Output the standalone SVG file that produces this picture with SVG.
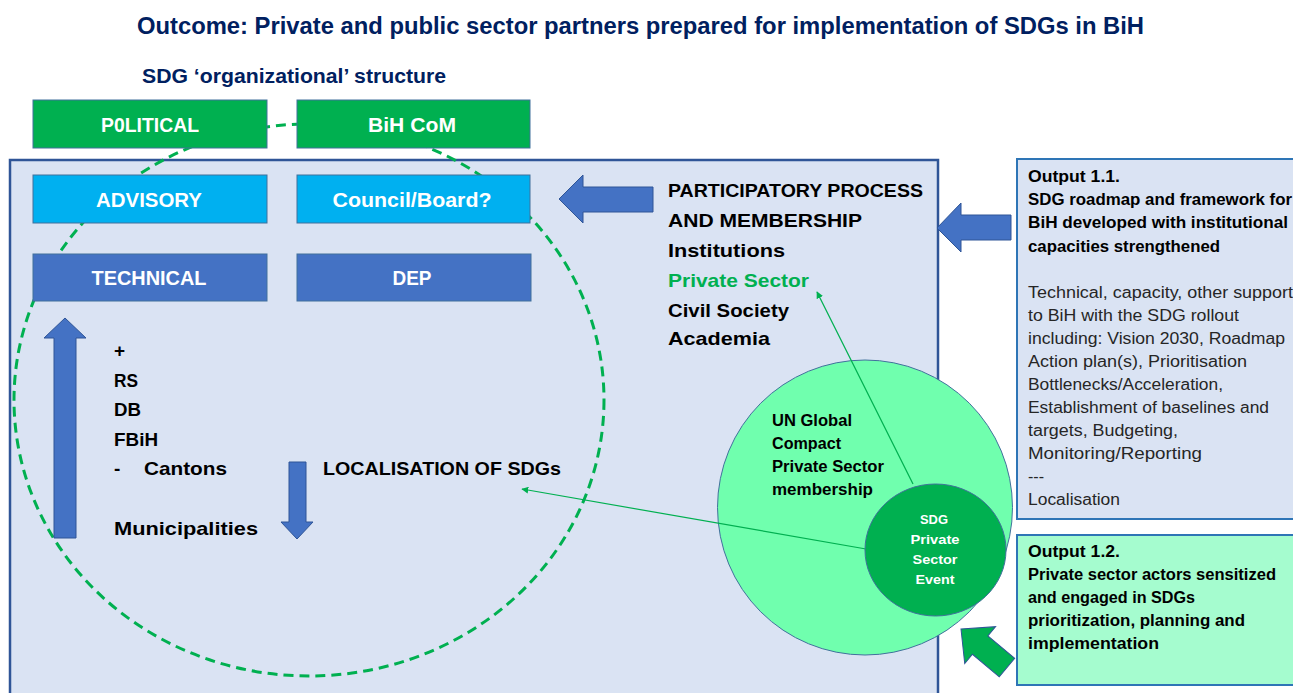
<svg xmlns="http://www.w3.org/2000/svg" width="1293" height="693" viewBox="0 0 1293 693">
<defs>
<style>
text{font-family:"Liberation Sans",Arial,sans-serif;}
.b{font-weight:bold;}
.title{font-size:23px;fill:#002060;font-weight:bold;}
.sub{font-size:20px;fill:#002060;font-weight:bold;}
.box{stroke:#41719C;stroke-width:1;}
.lbl{font-size:20px;fill:#fff;font-weight:bold;text-anchor:middle;}
.blk{font-size:19px;fill:#000;font-weight:bold;}
.out{font-size:16px;fill:#262626;}
.outb{font-size:16px;fill:#000;font-weight:bold;}
.barrow{fill:#4472C4;stroke:#2F5597;stroke-width:1;}
.thin{stroke:#00B050;stroke-width:1.2;fill:none;marker-end:url(#ah);}
</style>
<marker id="ah" viewBox="0 0 10 10" refX="9" refY="5" markerWidth="7" markerHeight="7" orient="auto" markerUnits="userSpaceOnUse">
<path d="M0,0 L10,5 L0,10 z" fill="#00B050"/>
</marker>
</defs>
<rect width="1293" height="693" fill="#fff"/>
<text class="title" x="137" y="34" textLength="1007" lengthAdjust="spacingAndGlyphs">Outcome: Private and public sector partners prepared for implementation of SDGs in BiH</text>
<text class="sub" x="142" y="83" textLength="304" lengthAdjust="spacingAndGlyphs">SDG ‘organizational’ structure</text>

<g id="panel">
<rect x="10" y="160" width="928" height="560" fill="#DAE3F3" stroke="#2F5597" stroke-width="2.5"/>
</g>

<g id="scope-ellipse">
<ellipse cx="309" cy="400" rx="295" ry="276" fill="none" stroke="#00B050" stroke-width="3" stroke-dasharray="10 6"/>
</g>

<g id="political"><rect class="box" x="33" y="100" width="234" height="48" fill="#00B050"/><text class="lbl" x="150" y="132" textLength="98" lengthAdjust="spacingAndGlyphs">P0LITICAL</text></g>
<g id="bih-com"><rect class="box" x="297" y="100" width="233" height="48" fill="#00B050"/><text class="lbl" x="412" y="132" textLength="88" lengthAdjust="spacingAndGlyphs">BiH CoM</text></g>
<g id="advisory"><rect class="box" x="33" y="175" width="234" height="48" fill="#00B0F0"/><text class="lbl" x="149" y="207" textLength="106" lengthAdjust="spacingAndGlyphs">ADVISORY</text></g>
<g id="council"><rect class="box" x="297" y="175" width="233" height="48" fill="#00B0F0"/><text class="lbl" x="412" y="207" textLength="159" lengthAdjust="spacingAndGlyphs">Council/Board?</text></g>
<g id="technical"><rect class="box" x="33" y="254" width="234" height="47" fill="#4472C4" stroke="#2F5597"/><text class="lbl" x="149" y="285" textLength="115" lengthAdjust="spacingAndGlyphs">TECHNICAL</text></g>
<g id="dep"><rect class="box" x="297" y="254" width="234" height="47" fill="#4472C4" stroke="#2F5597"/><text class="lbl" x="412" y="285" textLength="39" lengthAdjust="spacingAndGlyphs">DEP</text></g>

<g id="levels">
<text class="blk" x="114" y="357">+</text>
<text class="blk" x="114" y="387" textLength="24" lengthAdjust="spacingAndGlyphs">RS</text>
<text class="blk" x="114" y="416" textLength="27" lengthAdjust="spacingAndGlyphs">DB</text>
<text class="blk" x="114" y="446" textLength="44" lengthAdjust="spacingAndGlyphs">FBiH</text>
<text class="blk" x="114" y="475">-</text>
<text class="blk" x="144" y="475" textLength="83" lengthAdjust="spacingAndGlyphs">Cantons</text>
<text class="blk" x="114" y="535" textLength="144" lengthAdjust="spacingAndGlyphs">Municipalities</text>
</g>
<g id="localisation"><text class="blk" x="323" y="475" textLength="238" lengthAdjust="spacingAndGlyphs">LOCALISATION OF SDGs</text></g>

<g id="participatory">
<text class="blk" x="668" y="197" textLength="255" lengthAdjust="spacingAndGlyphs">PARTICIPATORY PROCESS</text>
<text class="blk" x="668" y="227" textLength="194" lengthAdjust="spacingAndGlyphs">AND MEMBERSHIP</text>
<text class="blk" x="668" y="257" textLength="117" lengthAdjust="spacingAndGlyphs">Institutions</text>
<text class="blk" x="668" y="287" textLength="141" lengthAdjust="spacingAndGlyphs" fill="#00B050" style="fill:#00B050">Private Sector</text>
<text class="blk" x="668" y="317" textLength="121" lengthAdjust="spacingAndGlyphs">Civil Society</text>
<text class="blk" x="668" y="345" textLength="102" lengthAdjust="spacingAndGlyphs">Academia</text>
</g>

<g id="output-1-1">
<rect x="1017" y="159" width="290" height="360" fill="#DAE3F3" stroke="#2E75B6" stroke-width="2"/>
<text class="outb" x="1028" y="182" textLength="92" lengthAdjust="spacingAndGlyphs">Output 1.1.</text>
<text class="outb" x="1028" y="205" textLength="264" lengthAdjust="spacingAndGlyphs">SDG roadmap and framework for</text>
<text class="outb" x="1028" y="228" textLength="260" lengthAdjust="spacingAndGlyphs">BiH developed with institutional</text>
<text class="outb" x="1028" y="252" textLength="192" lengthAdjust="spacingAndGlyphs">capacities strengthened</text>
<text class="out" x="1028" y="298" textLength="265" lengthAdjust="spacingAndGlyphs">Technical, capacity, other support</text>
<text class="out" x="1028" y="321" textLength="211" lengthAdjust="spacingAndGlyphs">to BiH with the SDG rollout</text>
<text class="out" x="1028" y="344" textLength="257" lengthAdjust="spacingAndGlyphs">including: Vision 2030, Roadmap</text>
<text class="out" x="1028" y="367" textLength="219" lengthAdjust="spacingAndGlyphs">Action plan(s), Prioritisation</text>
<text class="out" x="1028" y="390" textLength="195" lengthAdjust="spacingAndGlyphs">Bottlenecks/Acceleration,</text>
<text class="out" x="1028" y="413" textLength="241" lengthAdjust="spacingAndGlyphs">Establishment of baselines and</text>
<text class="out" x="1028" y="436" textLength="150" lengthAdjust="spacingAndGlyphs">targets, Budgeting,</text>
<text class="out" x="1028" y="459" textLength="174" lengthAdjust="spacingAndGlyphs">Monitoring/Reporting</text>
<text class="out" x="1028" y="482">---</text>
<text class="out" x="1028" y="505" textLength="92" lengthAdjust="spacingAndGlyphs">Localisation</text>
</g>

<g id="output-1-2">
<rect x="1017" y="535" width="290" height="150" fill="#A5FCCF" stroke="#2E75B6" stroke-width="2"/>
<text class="outb" x="1028" y="557" textLength="92" lengthAdjust="spacingAndGlyphs">Output 1.2.</text>
<text class="outb" x="1028" y="580" textLength="248" lengthAdjust="spacingAndGlyphs">Private sector actors sensitized</text>
<text class="outb" x="1028" y="603" textLength="167" lengthAdjust="spacingAndGlyphs">and engaged in SDGs</text>
<text class="outb" x="1028" y="626" textLength="217" lengthAdjust="spacingAndGlyphs">prioritization, planning and</text>
<text class="outb" x="1028" y="649" textLength="131" lengthAdjust="spacingAndGlyphs">implementation</text>
</g>

<g id="un-global-compact">
<circle cx="865" cy="507.5" r="147.5" fill="#70FFAE" stroke="#41719C" stroke-width="1"/>
<text class="outb" x="772" y="426" textLength="80" lengthAdjust="spacingAndGlyphs">UN Global</text>
<text class="outb" x="772" y="449" textLength="69" lengthAdjust="spacingAndGlyphs">Compact</text>
<text class="outb" x="772" y="472" textLength="112" lengthAdjust="spacingAndGlyphs">Private Sector</text>
<text class="outb" x="772" y="495" textLength="101" lengthAdjust="spacingAndGlyphs">membership</text>
</g>

<g id="connectors">
<polygon class="barrow" points="559,199 583,175 583,187 653,187 653,212 583,212 583,223"/>
<polygon class="barrow" points="937,228 961,203 961,215 1011,215 1011,240 961,240 961,252"/>
<polygon class="barrow" points="65,318 86,338 76,338 76,538 54,538 54,338 44,338"/>
<polygon class="barrow" points="289,462 306,462 306,522 313,522 297,539 281,522 289,522"/>
<polygon points="0,0 25,-24 25,-12 60,-12 60,12 25,12 25,24" fill="#00B050" stroke="#2F5597" stroke-width="1" transform="translate(961,629) rotate(40)"/>
<line class="thin" x1="866" y1="549" x2="522" y2="489"/>
<line class="thin" x1="913" y1="484" x2="817" y2="292"/>
</g>

<g id="sdg-event">
<ellipse cx="935.5" cy="550" rx="70.5" ry="66" fill="#00B050" stroke="#41719C" stroke-width="1"/>
<text class="lbl" style="font-size:13px" x="934" y="524" textLength="28" lengthAdjust="spacingAndGlyphs">SDG</text>
<text class="lbl" style="font-size:13px" x="935" y="544" textLength="49" lengthAdjust="spacingAndGlyphs">Private</text>
<text class="lbl" style="font-size:13px" x="935" y="564" textLength="45" lengthAdjust="spacingAndGlyphs">Sector</text>
<text class="lbl" style="font-size:13px" x="935" y="584" textLength="39" lengthAdjust="spacingAndGlyphs">Event</text>
</g>
</svg>
